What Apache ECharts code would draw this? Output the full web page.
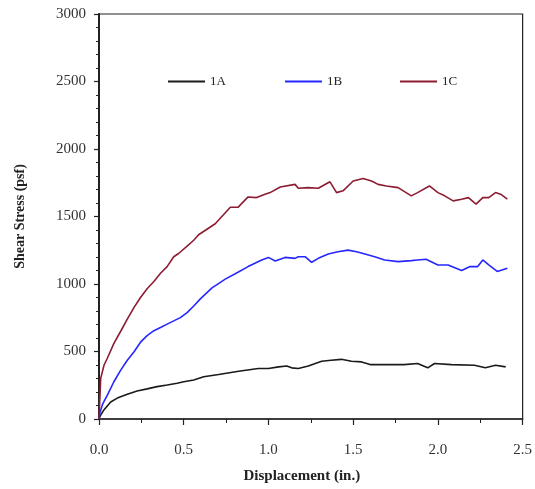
<!DOCTYPE html>
<html>
<head>
<meta charset="utf-8">
<script src="https://cdn.jsdelivr.net/npm/echarts@6/dist/echarts.min.js"></script>
<style>html,body{margin:0;padding:0;background:#fff}#c{width:535px;height:489px}</style>
</head>
<body>
<div id="c"></div>
<script>
var seriesNames = ['1A', '1B', '1C'];
var xTicks = ['0.0', '0.5', '1.0', '1.5', '2.0', '2.5'];
var yTicks = [0, 500, 1000, 1500, 2000, 2500, 3000];

var data1A = [[0,0],[0.01,30],[0.03,69],[0.069,126],[0.108,155],[0.167,184],[0.225,208],[0.284,223],[0.343,240],[0.402,252],[0.461,265],[0.5,276],[0.559,289],[0.618,313],[0.706,330],[0.824,354],[0.94,374],[1.0,374],[1.01,362],[1.06,386],[1.108,393],[1.137,379],[1.176,374],[1.235,393],[1.314,428],[1.37,435],[1.43,442],[1.49,428],[1.55,423],[1.6,403],[1.686,403],[1.80,403],[1.88,411],[1.94,379],[1.98,411],[2.08,403],[2.216,398],[2.28,379],[2.34,398],[2.40,386]];

var data1B = [[0,0],[0.005,45],[0.02,106],[0.05,179],[0.088,276],[0.128,362],[0.167,435],[0.206,496],[0.245,569],[0.284,618],[0.324,654],[0.363,678],[0.402,703],[0.441,727],[0.48,751],[0.52,788],[0.559,837],[0.598,890],[0.667,971],[0.745,1036],[0.804,1076],[0.88,1129],[0.96,1178],[1.0,1197],[1.04,1171],[1.098,1197],[1.157,1190],[1.176,1202],[1.216,1202],[1.255,1161],[1.294,1190],[1.353,1222],[1.41,1239],[1.47,1251],[1.52,1239],[1.569,1222],[1.627,1202],[1.686,1178],[1.765,1166],[1.843,1173],[1.88,1178],[1.93,1183],[2.0,1141],[2.06,1141],[2.14,1100],[2.19,1129],[2.235,1129],[2.265,1178],[2.30,1141],[2.35,1093],[2.41,1117]];

var data1C = [[0,0],[0.005,150],[0.01,301],[0.03,400],[0.049,450],[0.088,560],[0.128,650],[0.167,740],[0.206,825],[0.245,900],[0.284,965],[0.324,1019],[0.363,1080],[0.402,1129],[0.441,1202],[0.47,1226],[0.52,1280],[0.559,1324],[0.588,1365],[0.686,1446],[0.775,1568],[0.82,1568],[0.88,1645],[0.93,1640],[0.98,1665],[1.01,1677],[1.07,1719],[1.157,1738],[1.176,1709],[1.235,1714],[1.294,1709],[1.363,1757],[1.402,1677],[1.44,1690],[1.5,1763],[1.559,1782],[1.608,1763],[1.647,1738],[1.696,1726],[1.765,1714],[1.843,1653],[1.88,1677],[1.95,1726],[2.0,1677],[2.04,1653],[2.09,1616],[2.14,1628],[2.18,1640],[2.225,1592],[2.265,1640],[2.30,1640],[2.34,1677],[2.37,1665],[2.41,1628]];

var colors = ['#1a1a1a', '#2626ff', '#8c1c32'];
var legendLeft = [168, 285, 400];
var serif = '"Liberation Serif", "DejaVu Serif", serif';

var chart = echarts.init(document.getElementById('c'), null, {renderer: 'canvas'});
var allData = [data1A, data1B, data1C];
chart.setOption({
  animation: false,
  backgroundColor: '#fff',
  grid: {left: 99, right: 11, top: 14, bottom: 65, show: true, borderColor: '#222', borderWidth: 1.2, backgroundColor: 'transparent'},
  legend: seriesNames.map(function (n, i) {
    return {
      left: legendLeft[i], top: 75, padding: 0, itemWidth: 37, itemHeight: 2,
      icon: 'rect', data: [n],
      textStyle: {fontFamily: serif, fontSize: 13, color: '#222'}
    };
  }),
  xAxis: {
    type: 'value', min: 0, max: 2.5, interval: 0.5,
    axisLine: {show: true, onZero: false, lineStyle: {color: '#222', width: 1.5}},
    axisTick: {show: true, inside: false, length: 6, lineStyle: {color: '#222', width: 1.2}},
    minorTick: {show: true, splitNumber: 2, length: 4, lineStyle: {color: '#222', width: 1}},
    splitLine: {show: false},
    axisLabel: {margin: 24, fontFamily: serif, fontSize: 15, color: '#333',
      formatter: function (v) { var i = Math.round(v / 0.5); return xTicks[i] !== undefined ? xTicks[i] : ''; }},
    name: 'Displacement (in.)', nameLocation: 'middle', nameGap: 50,
    nameTextStyle: {fontFamily: serif, fontSize: 15, fontWeight: 'bold', color: '#222', padding: [0, 18, 0, 0]}
  },
  yAxis: {
    type: 'value', min: yTicks[0], max: yTicks[yTicks.length - 1], interval: 500,
    axisLine: {show: true, onZero: false, lineStyle: {color: '#222', width: 2}},
    axisTick: {show: true, inside: false, length: 5, lineStyle: {color: '#222', width: 1.2}},
    minorTick: {show: true, splitNumber: 5, length: 3, lineStyle: {color: '#222', width: 1}},
    splitLine: {show: false},
    axisLabel: {margin: 13, fontFamily: serif, fontSize: 15, color: '#333',
      formatter: function (v) { return String(v); }},
    name: 'Shear Stress (psf)', nameLocation: 'middle', nameGap: 72, nameRotate: 90,
    nameTextStyle: {fontFamily: serif, fontSize: 14, fontWeight: 'bold', color: '#222'}
  },
  series: seriesNames.map(function (n, i) {
    return {
      name: n, type: 'line', data: allData[i], showSymbol: false, symbol: 'none',
      lineStyle: {color: colors[i], width: 1.6}, itemStyle: {color: colors[i]}, smooth: false
    };
  })
});
</script>
</body>
</html>
